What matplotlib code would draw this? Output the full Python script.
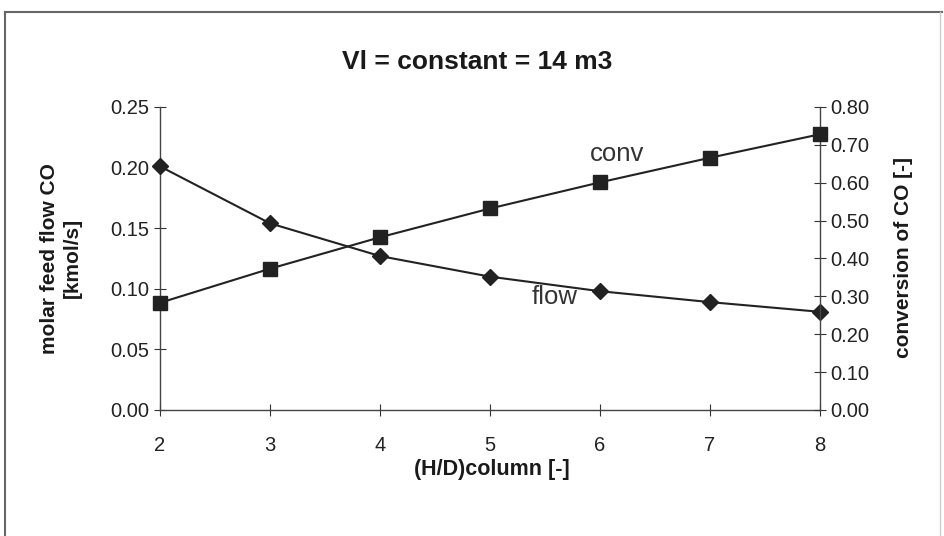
import matplotlib.pyplot as plt
from matplotlib.lines import Line2D

# data
hd_ratio = [2, 3, 4, 5, 6, 7, 8]
feed_flow = [0.201, 0.154, 0.127, 0.110, 0.098, 0.089, 0.081]   # kmol/s, left axis
conversion = [0.283, 0.373, 0.456, 0.532, 0.601, 0.666, 0.728]  # -, right axis

left_ticks = [0.00, 0.05, 0.10, 0.15, 0.20, 0.25]
right_ticks = [0.00, 0.10, 0.20, 0.30, 0.40, 0.50, 0.60, 0.70, 0.80]

plt.rcParams['font.family'] = ['Liberation Sans', 'DejaVu Sans']

fig = plt.figure(figsize=(9.44, 5.36), dpi=100)
ax = fig.add_axes([0.1695, 0.2351, 0.6992, 0.5653])
ax2 = ax.twinx()

# scanned frame round the chart (top + left strong, right faint)
fig.add_artist(Line2D([0.0053, 0.0053], [-0.01, 0.978], transform=fig.transFigure,
                      color='#666666', linewidth=1.5))
fig.add_artist(Line2D([0.0053, 0.998], [0.978, 0.978], transform=fig.transFigure,
                      color='#666666', linewidth=1.5))
fig.add_artist(Line2D([0.996, 0.996], [-0.01, 0.978], transform=fig.transFigure,
                      color='#cccccc', linewidth=1.0))

ax.plot(hd_ratio, feed_flow, color='#222222', marker='D', markersize=8,
        linewidth=1.5, clip_on=False, zorder=3)
ax2.plot(hd_ratio, conversion, color='#222222', marker='s', markersize=10,
         linewidth=1.5, clip_on=False, zorder=3)

ax.set_xlim(2, 8)
ax.set_ylim(0, 0.25)
ax2.set_ylim(0, 0.80)
ax.set_xticks(hd_ratio)
ax.set_yticks(left_ticks)
ax.set_yticklabels([f"{v:.2f}" for v in left_ticks])
ax2.set_yticks(right_ticks)
ax2.set_yticklabels([f"{v:.2f}" for v in right_ticks])

for a in (ax, ax2):
    a.spines['top'].set_visible(False)
    for s in a.spines.values():
        s.set_color('#444444')
        s.set_linewidth(1.0)
ax.spines['right'].set_visible(False)
ax2.spines['left'].set_visible(False)
ax2.spines['bottom'].set_visible(False)

ax.tick_params(axis='both', direction='inout', length=9, labelsize=14.5,
               colors='#333333', labelcolor='#222222')
ax.tick_params(axis='x', pad=14)
ax.tick_params(axis='y', pad=3)
ax2.tick_params(axis='y', direction='inout', length=9, labelsize=14.5, pad=3,
                colors='#333333', labelcolor='#222222')

fig.text(0.506, 0.884, "Vl = constant = 14 m3", fontsize=19, fontweight='bold',
         ha='center', va='center', color='#1a1a1a')
fig.text(0.521, 0.125, "(H/D)column [-]", fontsize=15.5, fontweight='bold',
         ha='center', va='center', color='#1a1a1a')
fig.text(0.065, 0.518, "molar feed flow CO\n[kmol/s]", fontsize=15, fontweight='bold',
         rotation=90, ha='center', va='center', color='#1a1a1a', linespacing=1.25)
fig.text(0.957, 0.519, "conversion of CO [-]", fontsize=15, fontweight='bold',
         rotation=90, ha='center', va='center', color='#1a1a1a')

ax2.text(6.155, 0.677, "conv", fontsize=18.5, color='#333333', ha='center', va='center')
ax.text(5.59, 0.0932, "flow", fontsize=18.5, color='#333333', ha='center', va='center')

plt.savefig("out.png", dpi=100)
plt.close()
